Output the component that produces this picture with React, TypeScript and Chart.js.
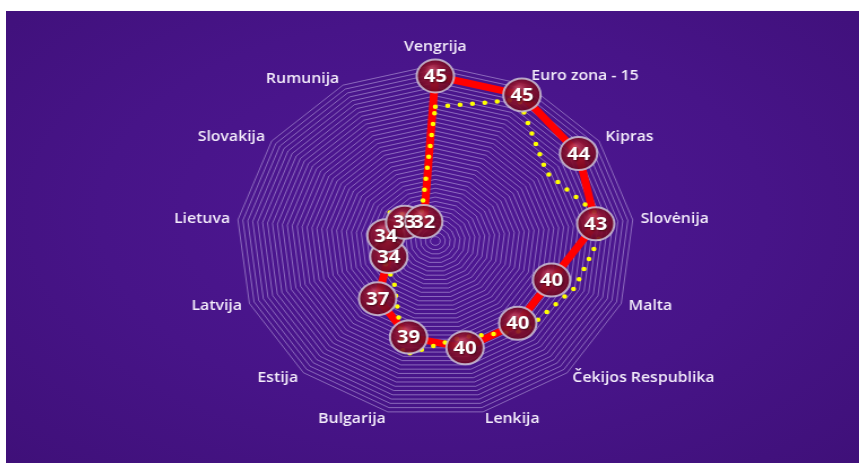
import React, { useEffect, useRef } from "react";
import { Chart, registerables } from "chart.js";

Chart.register(...registerables);

const categories = [
  "Vengrija",
  "Euro zona - 15",
  "Kipras",
  "Slovėnija",
  "Malta",
  "Čekijos Respublika",
  "Lenkija",
  "Bulgarija",
  "Estija",
  "Latvija",
  "Lietuva",
  "Slovakija",
  "Rumunija",
];

const redValues = [45, 45, 44, 43, 40, 40, 40, 39, 37, 34, 34, 33, 32];
const yellowValues = [42.2, 44.5, 40.9, 43.9, 42.0, 40.9, 39.0, 40.7, 35.0, 34.5, 33.6, 34.6, 32.5];

const axisMin = 30;
const axisMax = 46;
const axisStep = 0.4;

const CANVAS_W = 755;
const CANVAS_H = 452;
const STRETCH = 853 / 755;

const LABEL_FONT = '600 14px "Open Sans", sans-serif';

const labelPlugin = {
  id: "catLabels",
  afterDatasetsDraw(chart: any) {
    const scale = chart.scales.r;
    const ctx = chart.ctx as CanvasRenderingContext2D;
    const labels = chart.data.labels as string[];
    ctx.save();
    ctx.font = LABEL_FONT;
    ctx.fillStyle = "#f4eefb";
    labels.forEach((lab, i) => {
      const deg = (scale.getIndexAngle(i) * 180) / Math.PI;
      const near0 = deg < 2 || deg > 358;
      const near180 = Math.abs(deg - 180) < 2;
      const pad = near0 ? 11 : 7;
      const p = scale.getPointPosition(i, scale.drawingArea + pad);
      if (near0) {
        ctx.textAlign = "center";
        ctx.textBaseline = "bottom";
      } else if (near180) {
        ctx.textAlign = "center";
        ctx.textBaseline = "top";
      } else {
        ctx.textAlign = deg < 180 ? "left" : "right";
        ctx.textBaseline = "middle";
      }
      ctx.fillText(lab, p.x, deg > 0 && deg < 45 ? p.y - 3 : p.y);
    });
    ctx.restore();
  },
};

const bubblePlugin = {
  id: "bubbles",
  afterDatasetsDraw(chart: any) {
    const meta = chart.getDatasetMeta(1);
    const ctx = chart.ctx as CanvasRenderingContext2D;
    const vals = chart.data.datasets[1].data as number[];
    const r = 16.5;
    meta.data.forEach((pt: any) => {
      const x = pt.x;
      const y = pt.y;
      ctx.save();
      const g = ctx.createRadialGradient(x - 3, y - 7, 1, x, y, r);
      g.addColorStop(0, "rgba(196,70,96,0.92)");
      g.addColorStop(0.45, "rgba(150,22,50,0.9)");
      g.addColorStop(1, "rgba(105,6,32,0.9)");
      ctx.beginPath();
      ctx.arc(x, y, r, 0, Math.PI * 2);
      ctx.fillStyle = g;
      ctx.fill();
      ctx.lineWidth = 2;
      ctx.strokeStyle = "rgba(205,195,215,0.85)";
      ctx.stroke();
      ctx.restore();
    });
    meta.data.forEach((pt: any, i: number) => {
      ctx.save();
      ctx.font = 'bold 18px "Open Sans", sans-serif';
      ctx.fillStyle = "#ffffff";
      ctx.textAlign = "center";
      ctx.textBaseline = "middle";
      ctx.shadowColor = "rgba(40,0,10,0.7)";
      ctx.shadowBlur = 2;
      ctx.shadowOffsetX = 1;
      ctx.shadowOffsetY = 1;
      ctx.fillText(String(vals[i]), pt.x, pt.y + 1);
      ctx.restore();
    });
  },
};

export default function App() {
  const canvasRef = useRef<HTMLCanvasElement | null>(null);

  useEffect(() => {
    if (!canvasRef.current) return;
    const chart = new Chart(canvasRef.current, {
      type: "radar",
      data: {
        labels: categories,
        datasets: [
          {
            label: "B",
            data: yellowValues,
            borderColor: "#ffff00",
            backgroundColor: "rgba(0,0,0,0)",
            borderWidth: 4.5,
            borderDash: [0, 11],
            borderCapStyle: "round",
            pointRadius: 0,
            fill: false,
          },
          {
            label: "A",
            data: redValues,
            borderColor: "#ff0000",
            backgroundColor: "rgba(0,0,0,0)",
            borderWidth: 7,
            pointRadius: 0,
            fill: false,
          },
        ],
      },
      options: {
        responsive: false,
        animation: false,
        layout: { padding: { top: 54, bottom: 46, left: 6, right: 0 } },
        plugins: {
          legend: { display: false },
          tooltip: { enabled: false },
        },
        scales: {
          r: {
            min: axisMin,
            max: axisMax,
            ticks: { display: false, stepSize: axisStep, maxTicksLimit: 100 },
            grid: { color: "rgba(225,215,250,0.55)", lineWidth: 0.8 },
            angleLines: { display: false },
            pointLabels: { display: false },
          },
        },
      },
      plugins: [labelPlugin, bubblePlugin],
    } as any);
    return () => chart.destroy();
  }, []);

  return (
    <div
      style={{
        position: "absolute",
        left: 6,
        top: 11,
        width: 853,
        height: 452,
        overflow: "hidden",
        background:
          "radial-gradient(ellipse at 50% 45%, #4f1894 0%, #471488 55%, #3f1079 100%)",
      }}
    >
      <canvas
        ref={canvasRef}
        width={CANVAS_W}
        height={CANVAS_H}
        style={{
          display: "block",
          transform: `scaleX(${STRETCH})`,
          transformOrigin: "0 0",
        }}
      />
    </div>
  );
}
